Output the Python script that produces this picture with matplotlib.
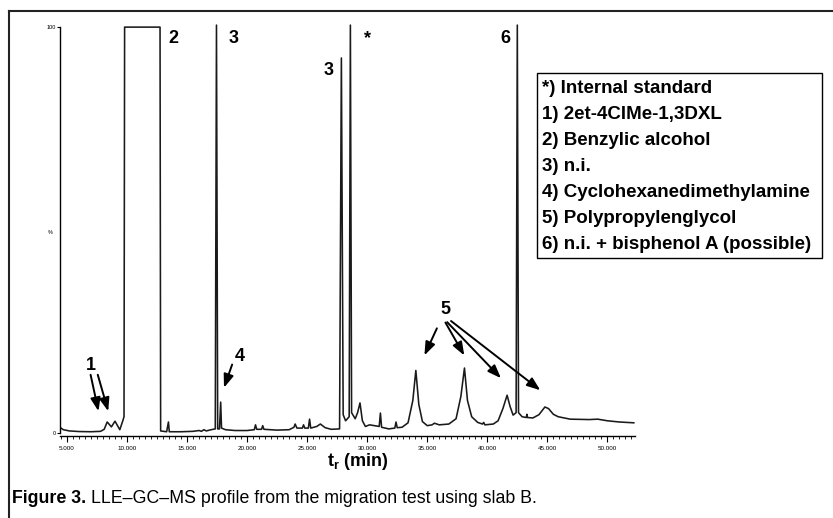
import matplotlib
matplotlib.use("Agg")
import matplotlib.pyplot as plt
from matplotlib.lines import Line2D
from matplotlib.patches import Rectangle

# chromatogram trace: retention time (min) and abundance (%)
time_min = [4.45, 4.7, 5.2, 6.0, 7.0, 7.8, 8.1, 8.35, 8.7, 9.0, 9.4, 9.65, 9.75, 9.8,
            12.75, 12.8, 13.3, 13.45, 13.52, 14.5, 15.5, 16.0, 16.2, 16.4, 16.6, 17.0,
            17.35, 17.45, 17.55, 17.7, 17.8, 17.87, 18.2, 19.0, 20.0, 20.6, 20.7, 20.8,
            21.2, 21.3, 21.4, 22.5, 23.5, 23.9, 24.0, 24.15, 24.6, 24.7, 24.8, 25.1,
            25.2, 25.3, 25.8, 26.1, 26.5, 27.0, 27.7, 27.85, 28.0, 28.2, 28.5, 28.6,
            28.7, 29.0, 29.2, 29.4, 29.6, 29.85, 30.2, 30.6, 31.0, 31.1, 31.2, 31.8,
            32.3, 32.4, 32.5, 32.9, 33.4, 33.8, 34.05, 34.3, 34.6, 35.0, 35.4, 35.6,
            36.0, 36.8, 37.4, 37.8, 38.1, 38.35, 38.7, 39.2, 39.6, 39.7, 39.8, 40.5,
            40.9, 41.3, 41.65, 41.9, 42.15, 42.4, 42.5, 42.6, 42.9, 43.25, 43.3, 43.35,
            43.8, 44.3, 44.8, 45.1, 45.5, 45.9, 46.9, 48.5, 49.2, 50.0, 51.0, 52.2]
abundance = [1.3, 0.8, 0.5, 0.35, 0.3, 0.4, 0.9, 2.7, 1.5, 2.9, 0.8, 3.0, 4.0, 100,
             100, 0.5, 0.3, 2.7, 0.3, 0.3, 0.4, 0.6, 0.4, 0.8, 0.5, 0.8,
             1.0, 100.5, 1.0, 1.0, 7.6, 1.2, 0.8, 0.6, 0.6, 0.8, 2.0, 0.9,
             0.9, 1.8, 0.9, 0.7, 0.8, 1.4, 2.2, 1.2, 1.2, 2.0, 1.2, 1.2,
             3.4, 1.2, 1.6, 2.2, 1.3, 0.9, 1.0, 92.4, 4.5, 3.0, 4.0, 100.5,
             5.0, 3.5, 5.0, 7.4, 3.0, 1.6, 2.0, 1.8, 1.6, 4.9, 1.4, 1.0,
             1.2, 2.7, 1.3, 1.4, 2.5, 8.0, 15.4, 7.0, 2.8, 1.8, 2.0, 2.4,
             2.0, 2.2, 3.5, 9.0, 16.0, 8.0, 4.0, 2.6, 2.2, 2.6, 2.0, 2.2,
             3.0, 6.0, 9.3, 6.5, 4.4, 5.0, 100.5, 5.0, 4.0, 3.8, 4.6, 3.8,
             3.7, 4.5, 6.4, 6.0, 4.6, 4.0, 3.4, 3.3, 3.4, 3.0, 2.7, 2.5]

x_ticks = [5, 10, 15, 20, 25, 30, 35, 40, 45, 50]
x_tick_labels = ["5.000", "10.000", "15.000", "20.000", "25.000",
                 "30.000", "35.000", "40.000", "45.000", "50.000"]

# peak labels: text, time, abundance
peak_labels = [("2", 13.9, 96.1), ("3", 18.9, 96.1), ("3", 26.75, 88.2),
               ("*", 30.0, 96.1), ("6", 41.5, 96.1),
               ("1", 7.0, 15.6), ("4", 19.4, 17.8), ("5", 36.5, 29.3)]

# arrows: (from time, from abundance, to time, to abundance)
arrows = [(6.92, 15.0, 7.67, 4.7), (7.5, 15.0, 8.5, 4.7),
          (18.83, 17.5, 18.0, 10.5),
          (35.9, 26.4, 34.67, 18.5), (36.4, 27.8, 38.2, 18.5),
          (36.5, 27.8, 41.3, 13.0), (36.8, 28.0, 44.6, 10.1)]

legend_lines = ["*) Internal standard", "1) 2et-4ClMe-1,3DXL", "2) Benzylic alcohol",
                "3) n.i.", "4) Cyclohexanedimethylamine", "5) Polypropylenglycol",
                "6) n.i. + bisphenol A (possible)"]

W, H = 833, 518
plt.rcParams["font.family"] = ["Liberation Sans", "DejaVu Sans"]
plt.rcParams["mathtext.fontset"] = "custom"
plt.rcParams["mathtext.bf"] = "Liberation Sans:bold"
plt.rcParams["mathtext.rm"] = "Liberation Sans"

fig = plt.figure(figsize=(W / 100, H / 100), dpi=100)
ax = fig.add_axes([60 / W, 1 - 436 / H, 575 / W, 417 / H])

ax.plot(time_min, abundance, color="#1a1a1a", lw=1.15)
ax.set_xlim(4.42, 52.3)
ax.set_ylim(-0.75, 102)

for s in ["top", "right"]:
    ax.spines[s].set_visible(False)
ax.spines["left"].set_bounds(0, 100)
ax.spines["left"].set_linewidth(1.0)
ax.spines["bottom"].set_linewidth(1.0)

ax.set_xticks(x_ticks)
ax.set_xticklabels(x_tick_labels, fontsize=4.5)
ax.set_xticks([t / 2 for t in range(9, 105)], minor=True)
ax.tick_params(axis="x", which="major", length=4, width=0.8, pad=3)
ax.tick_params(axis="x", which="minor", length=2.5, width=0.6)
ax.set_yticks([0, 100])
ax.set_yticklabels(["0", "100"], fontsize=4)
ax.tick_params(axis="y", length=2, width=0.8, pad=1)
ax.text(-0.012, 49.5, "%", transform=ax.get_yaxis_transform(), fontsize=4,
        ha="right", va="center")

ax.set_xlabel(r"$\mathbf{t}_\mathbf{r}$ (min)", fontsize=13, fontweight="bold")
ax.xaxis.set_label_coords(0.518, -0.036)

for txt, t, v in peak_labels:
    ax.text(t, v, txt, fontsize=13, fontweight="bold", ha="center",
            va="baseline", clip_on=False)

for t0, v0, t1, v1 in arrows:
    ax.annotate("", xy=(t1, v1), xytext=(t0, v0),
                arrowprops=dict(arrowstyle="-|>,head_length=0.8,head_width=0.3",
                                color="black", lw=1.4))

# legend box in pixel positions
def fx(x):
    return x / W

def fy(y):
    return 1 - y / H

fig.patches.append(Rectangle((fx(537), fy(258)), fx(822) - fx(537), fy(73) - fy(258),
                             transform=fig.transFigure, fill=False,
                             edgecolor="black", lw=1.0))
for i, line in enumerate(legend_lines):
    fig.text(fx(542), fy(93 + i * 26), line, fontsize=13.5, fontweight="bold",
             va="baseline")

# frame of the scanned page
fig.add_artist(Line2D([fx(9), fx(9)], [fy(11), 0], transform=fig.transFigure,
                      color="#222222", lw=1.5))
fig.add_artist(Line2D([fx(9), 1], [fy(11), fy(11)], transform=fig.transFigure,
                      color="#222222", lw=1.5))

cap1 = fig.text(fx(12), fy(503), "Figure 3.", fontsize=12.8, fontweight="bold",
                va="baseline")
fig.canvas.draw()
bb = cap1.get_window_extent()
fig.text(bb.x1 / W + 5 / W, fy(503),
         "LLE\u2013GC\u2013MS profile from the migration test using slab B.",
         fontsize=12.8, va="baseline")

fig.savefig("out.png", dpi=100)
